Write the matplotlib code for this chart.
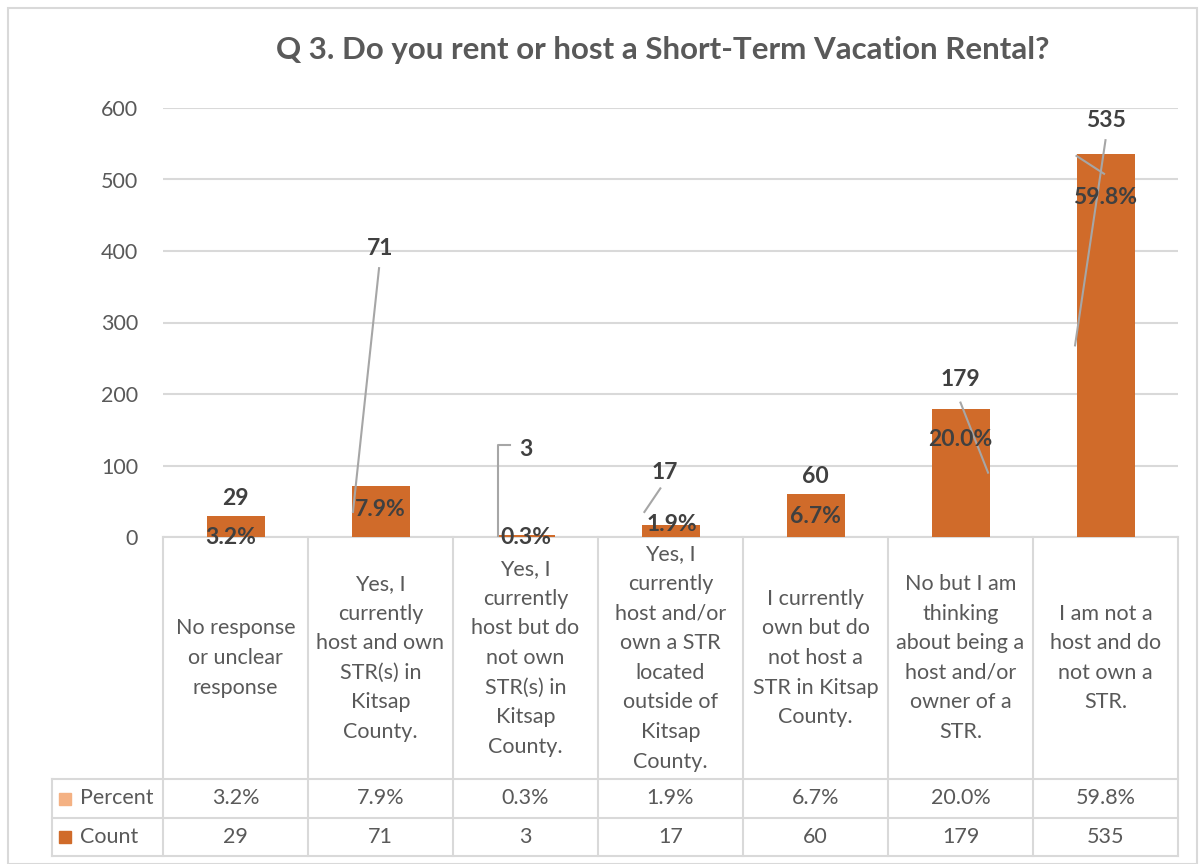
import matplotlib
matplotlib.use('Agg')
from matplotlib import pyplot as plt
from matplotlib.patches import Rectangle
import matplotlib.transforms as mtransforms

plt.rcParams['font.family'] = ['Lato', 'DejaVu Sans']

# data
categories = [
    "No response\nor unclear\nresponse",
    "Yes, I\ncurrently\nhost and own\nSTR(s) in\nKitsap\nCounty.",
    "Yes, I\ncurrently\nhost but do\nnot own\nSTR(s) in\nKitsap\nCounty.",
    "Yes, I\ncurrently\nhost and/or\nown a STR\nlocated\noutside of\nKitsap\nCounty.",
    "I currently\nown but do\nnot host a\nSTR in Kitsap\nCounty.",
    "No but I am\nthinking\nabout being a\nhost and/or\nowner of a\nSTR.",
    "I am not a\nhost and do\nnot own a\nSTR.",
]
counts = [29, 71, 3, 17, 60, 179, 535]
percents = [3.2, 7.9, 0.3, 1.9, 6.7, 20.0, 59.8]

# label placement (x offset in categories, y in data units)
count_lbl = [(0, 54), (0, 404), (0, 123), (-0.04, 90), (0, 85), (0, 220), (0, 583)]
pct_lbl = [(-0.03, 0), (0, 39), (0, -1), (0.01, 17), (0, 28), (0, 136), (0, 475)]
leaders = {
    1: [(-0.01, 376), (-0.19, 35)],
    2: [(-0.11, 128), (-0.19, 128), (-0.19, 2)],
    3: [(-0.07, 68), (-0.18, 35)],
    5: [(0.0, 188), (0.19, 90)],
    6: [(0.0, 555), (-0.21, 268)],
}
extra_leader = [(6, -0.20, 533), (6, -0.01, 508)]

bar_color = '#D06B2A'
pct_color = '#F4B183'
text_gray = '#595959'
grid_gray = '#D9D9D9'
label_dark = '#404040'

W, H = 1199, 864
fig = plt.figure(figsize=(W / 100, H / 100), dpi=100)
fig.patches.append(Rectangle((8 / W, 0), (W - 10) / W, (H - 8) / H, transform=fig.transFigure,
                             fill=False, edgecolor=grid_gray, linewidth=1.5))

ax = fig.add_axes([163 / W, (H - 537) / H, (1178 - 163) / W, 429 / H])
x = list(range(len(counts)))
ax.bar(x, counts, width=0.4, color=bar_color, zorder=3)
ax.set_xlim(-0.5, len(counts) - 0.5)
ax.set_ylim(0, 600)
ax.set_yticks(range(0, 601, 100))
ax.tick_params(axis='y', length=0, labelsize=15.5, labelcolor=text_gray, pad=18)
ax.set_xticks([])
ax.grid(axis='y', color=grid_gray, linewidth=1.5, zorder=0)
for s in ['top', 'right', 'left']:
    ax.spines[s].set_visible(False)
ax.spines['bottom'].set_color(grid_gray)
ax.spines['bottom'].set_linewidth(1.5)

fig.suptitle("Q 3. Do you rent or host a Short-Term Vacation Rental?", x=663 / W, y=1 - 50 / H,
             va='center', fontsize=22.5, fontweight='bold', color=text_gray)

# data labels
for i in x:
    dx, dy = count_lbl[i]
    ax.text(i + dx, dy, str(counts[i]), ha='center', va='center', fontsize=16.5,
            fontweight='bold', color=label_dark, zorder=5)
    dx, dy = pct_lbl[i]
    ax.text(i + dx, dy, f"{percents[i]:.1f}%", ha='center', va='center', fontsize=16.5,
            fontweight='bold', color=label_dark, zorder=5, clip_on=False)
for i, pts in leaders.items():
    ax.plot([i + p[0] for p in pts], [p[1] for p in pts], color='#A6A6A6', lw=1.5, zorder=4)
ax.plot([e[0] + e[1] for e in extra_leader], [e[2] for e in extra_leader], color='#A6A6A6', lw=1.5, zorder=4)

# data table below the axis
blend = mtransforms.blended_transform_factory(ax.transData, ax.transAxes)
def yf(py):
    return (537 - py) / 429
left_edge = -0.5 - (163 - 52) / 145
row_lines = [779, 818, 856]
for py in row_lines:
    ax.plot([left_edge, 6.5], [yf(py), yf(py)], transform=blend, color=grid_gray, lw=1.5, clip_on=False)
for b in range(len(counts) + 1):
    ax.plot([b - 0.5, b - 0.5], [0, yf(856)], transform=blend, color=grid_gray, lw=1.5, clip_on=False)
ax.plot([left_edge, left_edge], [yf(779), yf(856)], transform=blend, color=grid_gray, lw=1.5, clip_on=False)

for i, c in enumerate(categories):
    ax.text(i, yf(658), c, transform=blend, ha='center', va='center', fontsize=15.5,
            color=text_gray, linespacing=1.6)
    ax.text(i, yf(798.5), f"{percents[i]:.1f}%", transform=blend, ha='center', va='center',
            fontsize=15.5, color=text_gray)
    ax.text(i, yf(837), str(counts[i]), transform=blend, ha='center', va='center',
            fontsize=15.5, color=text_gray)

# legend keys in table
key_x = left_edge + 0.09
for py, name, col in [(798.5, 'Percent', pct_color), (837, 'Count', bar_color)]:
    ax.plot([key_x], [yf(py)], marker='s', markersize=9, color=col, transform=blend, clip_on=False)
    ax.text(key_x + 0.1, yf(py), name, transform=blend, ha='left', va='center', fontsize=15.5,
            color=text_gray)

plt.savefig('out.png', dpi=100)
